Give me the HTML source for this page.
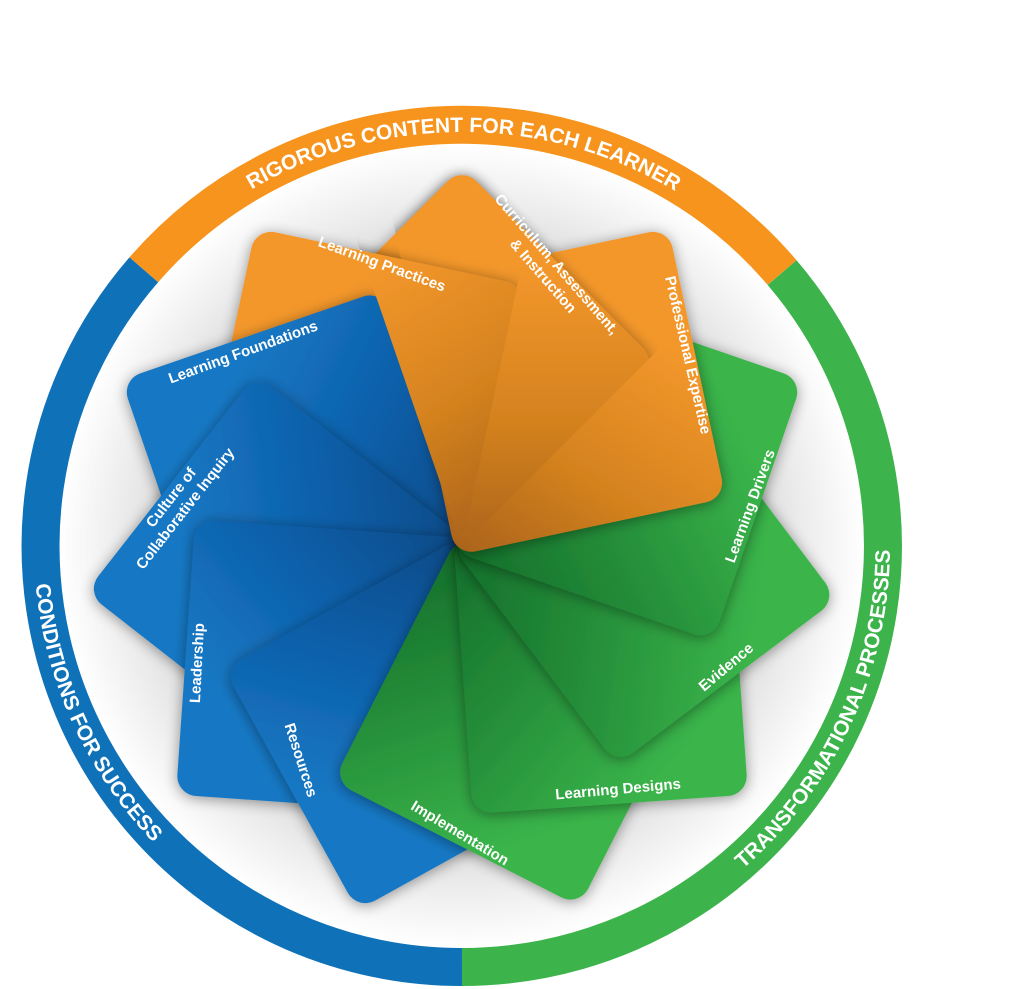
<!DOCTYPE html>
<html><head><meta charset="utf-8"><style>
html,body{margin:0;padding:0;background:#fff;width:1024px;height:989px;overflow:hidden}
svg{display:block}
text{font-family:"Liberation Sans",sans-serif;font-weight:bold;fill:#fff}
</style></head><body>
<svg width="1024" height="989" viewBox="0 0 1024 989" xmlns="http://www.w3.org/2000/svg">
<defs>
<radialGradient id="halo" cx="462" cy="546" r="402" gradientUnits="userSpaceOnUse">
<stop offset="0.6" stop-color="#c8c8c8"/><stop offset="0.85" stop-color="#ececec"/><stop offset="1" stop-color="#ffffff"/>
</radialGradient>
<linearGradient id="go" x1="0" y1="0" x2="1" y2="1"><stop offset="0" stop-color="#a9621c"/><stop offset="0.35" stop-color="#d4821f"/><stop offset="0.75" stop-color="#f3972b"/></linearGradient>
<linearGradient id="gb" x1="0" y1="0" x2="1" y2="1"><stop offset="0" stop-color="#0a4a86"/><stop offset="0.35" stop-color="#0c5ea8"/><stop offset="0.75" stop-color="#1878c4"/></linearGradient>
<linearGradient id="gg" x1="0" y1="0" x2="1" y2="1"><stop offset="0" stop-color="#146d2a"/><stop offset="0.35" stop-color="#238b38"/><stop offset="0.8" stop-color="#3ab44a"/></linearGradient>
<filter id="sh" x="-20%" y="-20%" width="140%" height="140%"><feGaussianBlur in="SourceAlpha" stdDeviation="7"/><feOffset dx="0" dy="2"/><feComponentTransfer><feFuncA type="linear" slope="0.4"/></feComponentTransfer><feMerge><feMergeNode/><feMergeNode in="SourceGraphic"/></feMerge></filter>
<clipPath id="w1"><polygon points="462,546 337.3,-40.9 632,-29 886.3,121.7"/></clipPath>
<clipPath id="w2"><polygon points="462,546 266.6,-21.3 425.4,-52.8 586.7,-40.9"/></clipPath>
<path id="ptop" d="M149.6 274.4 A414 414 0 0 1 776.8 277.1"/>
<path id="pleft" d="M139 265.2 A428 428 0 0 0 462 974"/>
<path id="pright" d="M462 974 A428 428 0 0 0 787.4 268"/>
</defs>
<circle cx="462" cy="546" r="402" fill="url(#halo)"/>
<path d="M143.8 269.8 A421 421 0 0 1 782.1 272.6" fill="none" stroke="#f7941d" stroke-width="38"/>
<path d="M462 967 A421 421 0 0 1 143.8 269.8" fill="none" stroke="#0f72b9" stroke-width="38"/>
<path d="M782.1 272.6 A421 421 0 0 1 462 967" fill="none" stroke="#3cb44b" stroke-width="38"/>
<text font-size="21"><textPath href="#ptop" startOffset="50%" text-anchor="middle">RIGOROUS CONTENT FOR EACH LEARNER</textPath></text>
<text font-size="21"><textPath href="#pleft" startOffset="50%" text-anchor="middle">CONDITIONS FOR SUCCESS</textPath></text>
<text font-size="21"><textPath href="#pright" startOffset="50%" text-anchor="middle">TRANSFORMATIONAL PROCESSES</textPath></text>
<g transform="translate(462,546)">
<g filter="url(#sh)"><rect x="-8" y="-8" width="276" height="276" rx="20" fill="url(#go)" transform="rotate(-135)"/></g>
<g filter="url(#sh)"><rect x="-8" y="-8" width="276" height="276" rx="20" fill="url(#go)" transform="rotate(-168)"/></g>
<g filter="url(#sh)"><rect x="-8" y="-8" width="276" height="276" rx="20" fill="url(#gb)" transform="rotate(-199)"/></g>
<g filter="url(#sh)"><rect x="-8" y="-8" width="276" height="276" rx="20" fill="url(#gb)" transform="rotate(128)"/></g>
<g filter="url(#sh)"><rect x="-8" y="-8" width="276" height="276" rx="20" fill="url(#gb)" transform="rotate(94)"/></g>
<g filter="url(#sh)"><rect x="-8" y="-8" width="276" height="276" rx="20" fill="url(#gb)" transform="rotate(61)"/></g>
<g filter="url(#sh)"><rect x="-8" y="-8" width="276" height="276" rx="20" fill="url(#gg)" transform="rotate(27)"/></g>
<g filter="url(#sh)"><rect x="-8" y="-8" width="276" height="276" rx="20" fill="url(#gg)" transform="rotate(-4)"/></g>
<g filter="url(#sh)"><rect x="-8" y="-8" width="276" height="276" rx="20" fill="url(#gg)" transform="rotate(-37)"/></g>
<g filter="url(#sh)"><rect x="-8" y="-8" width="276" height="276" rx="20" fill="url(#gg)" transform="rotate(-71)"/></g>
<g filter="url(#sh)"><rect x="-8" y="-8" width="276" height="276" rx="20" fill="url(#go)" transform="rotate(-102)"/></g>
</g>
<g clip-path="url(#w1)"><g transform="translate(462,546)">
<g filter="url(#sh)"><rect x="-8" y="-8" width="276" height="276" rx="20" fill="url(#go)" transform="rotate(-135)"/></g>
</g></g>
<g clip-path="url(#w2)"><g transform="translate(462,546)">
<g filter="url(#sh)"><rect x="-8" y="-8" width="276" height="276" rx="20" fill="url(#go)" transform="rotate(-168)"/></g>
</g></g>
<g font-size="15">
<text transform="translate(382,264) rotate(20)" text-anchor="middle" dy="5">Learning Practices</text>
<g transform="translate(550,270) rotate(49)">
<text text-anchor="middle" y="-4">Curriculum, Assessment,</text>
<text text-anchor="middle" y="14">&amp; Instruction</text>
</g>
<text transform="translate(688,355) rotate(77)" text-anchor="middle" dy="5">Professional Expertise</text>
<text transform="translate(243,352) rotate(-20)" text-anchor="middle" dy="5">Learning Foundations</text>
<g transform="translate(178,503) rotate(-52)">
<text text-anchor="middle" y="-4">Culture of</text>
<text text-anchor="middle" y="14">Collaborative Inquiry</text>
</g>
<text transform="translate(197,663) rotate(-87)" text-anchor="middle" dy="5">Leadership</text>
<text transform="translate(301,760) rotate(72)" text-anchor="middle" dy="5">Resources</text>
<text transform="translate(460,833) rotate(31)" text-anchor="middle" dy="5">Implementation</text>
<text transform="translate(618,789) rotate(-5)" text-anchor="middle" dy="5">Learning Designs</text>
<text transform="translate(726,667) rotate(-40)" text-anchor="middle" dy="5">Evidence</text>
<text transform="translate(750,506) rotate(-70)" text-anchor="middle" dy="5">Learning Drivers</text>
</g>
</svg>
</body></html>
